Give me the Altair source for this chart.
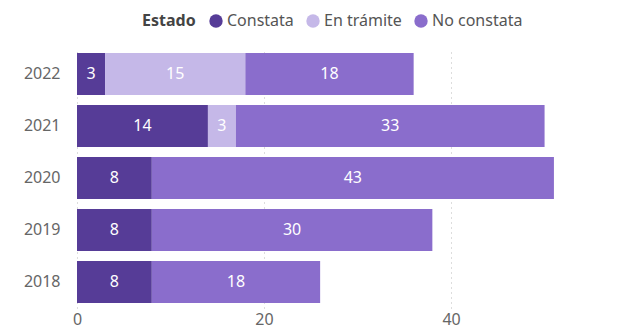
import altair as alt
import pandas as pd

years = ["2022", "2021", "2020", "2019", "2018"]
estados = ["Constata", "En trámite", "No constata"]
constata = [3, 14, 8, 8, 8]
en_tramite = [15, 3, 0, 0, 0]
no_constata = [18, 33, 43, 30, 18]
colors = ["#563c97", "#c5b8e8", "#8a6dcc"]
x_ticks = [0, 20, 40, 60]

rows = []
for i, y in enumerate(years):
    for j, (e, vals) in enumerate(zip(estados, [constata, en_tramite, no_constata])):
        rows.append({"Año": y, "Estado": e, "orden": j, "valor": vals[i]})
df = pd.DataFrame(rows)

FONT = "Noto Sans"

base = alt.Chart(df).transform_stack(
    stack="valor", groupby=["Año"], as_=["x0", "x1"], sort=[alt.SortField("orden")]
)

bars = base.mark_bar(size=42).encode(
    y=alt.Y("Año:N", sort=years, title=None,
            scale=alt.Scale(paddingInner=0.2, paddingOuter=0.1),
            axis=alt.Axis(labelFontSize=16, labelColor="#666", labelPadding=17,
                          ticks=False, domain=False, labelFont=FONT)),
    x=alt.X("x0:Q", title=None,
            scale=alt.Scale(domain=[0, 58.6], nice=False),
            axis=alt.Axis(values=x_ticks, labelFontSize=16, labelColor="#666",
                          ticks=False, domain=False, labelFont=FONT, labelPadding=3,
                          grid=True, gridDash=[1, 4], gridColor="#bbb", labelFlush=False)),
    x2="x1:Q",
    color=alt.Color("Estado:N", sort=estados,
                    scale=alt.Scale(domain=estados, range=colors),
                    legend=alt.Legend(orient="none", legendX=65, legendY=-35,
                                      direction="horizontal", title="Estado",
                                      titleOrient="left", titleFontSize=16,
                                      titleFont=FONT, titleColor="#444",
                                      labelFont=FONT, labelFontSize=16,
                                      labelColor="#555", symbolType="circle",
                                      symbolSize=180, symbolStrokeWidth=0,
                                      symbolOpacity=1, columnPadding=11,
                                      labelOffset=3, titlePadding=12)),
    order=alt.Order("orden:Q"),
)

labels = base.transform_filter("datum.valor > 0").transform_calculate(
    mid="(datum.x0 + datum.x1) / 2"
).mark_text(color="white", fontSize=16, font=FONT, baseline="middle").encode(
    y=alt.Y("Año:N", sort=years),
    x=alt.X("mid:Q"),
    text=alt.Text("valor:Q"),
)

chart = (bars + labels).properties(
    width=548, height=260,
    autosize=alt.AutoSizeParams(type="none"),
    padding={"left": 69, "top": 40, "right": 0, "bottom": 20},
).configure_view(stroke=None)

chart.save("out.html", embed_options={"renderer": "svg", "actions": False})
